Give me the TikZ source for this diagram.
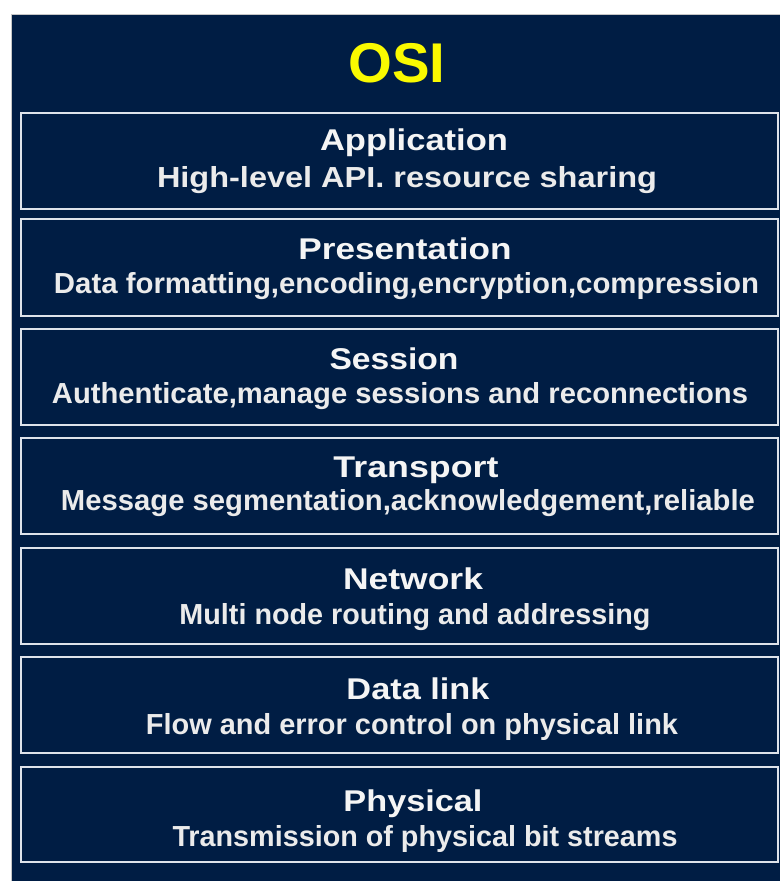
\documentclass[tikz,border=0pt]{standalone}
\usepackage{fontspec}
\setmainfont{Liberation Sans}
\usepackage{graphicx}
\definecolor{navy}{RGB}{0,29,68}
\definecolor{boxline}{RGB}{222,227,235}
\definecolor{osiyellow}{RGB}{250,250,0}
\newcommand\fitto[2]{\resizebox{#1pt}{\height}{#2}}
\tikzset{
  layerbox/.style={draw=boxline, line width=2pt, fill=navy, minimum width=757pt, inner sep=0pt},
  layertitle/.style={anchor=base, inner sep=0pt, text=white!96!black, font=\fontsize{30}{30}\selectfont\bfseries},
  layersub/.style={anchor=base, inner sep=0pt, text=white!92!black, font=\fontsize{29}{29}\selectfont\bfseries},
}
\begin{document}
\begin{tikzpicture}[x=1pt,y=-1pt]
\useasboundingbox (0,0) rectangle (780,881);
\fill[white] (0,0) rectangle (780,881);
\fill[navy] (11,14) rectangle (780,881);
\draw[gray!45, line width=0.8pt] (11.4,881) -- (11.4,14.4) -- (780,14.4);
\node[anchor=base, inner sep=0pt, text=osiyellow, font=\fontsize{56}{56}\selectfont\bfseries] (osi) at (397,82) {\fitto{97}{OSI}};
% boxes
\node[layerbox, minimum height=96pt] (b1) at (399.5,161) {};
\node[layerbox, minimum height=97pt] (b2) at (399.5,267.5) {};
\node[layerbox, minimum height=96pt] (b3) at (399.5,377) {};
\node[layerbox, minimum height=96pt] (b4) at (399.5,486) {};
\node[layerbox, minimum height=96pt] (b5) at (399.5,596) {};
\node[layerbox, minimum height=96pt] (b6) at (399.5,705) {};
\node[layerbox, minimum height=95pt] (b7) at (399.5,814.5) {};
% titles
\node[layertitle] (t1) at (414,150) {\fitto{188}{Application}};
\node[layersub] (s1) at (407,187) {\fitto{500}{High-level API. resource sharing}};
\node[layertitle] (t2) at (405,259) {\fitto{213}{Presentation}};
\node[layersub] (s2) at (406.5,293) {\fitto{705}{Data formatting,encoding,encryption,compression}};
\node[layertitle] (t3) at (394,369) {\fitto{129}{Session}};
\node[layersub] (s3) at (400,403) {\fitto{696}{Authenticate,manage sessions and reconnections}};
\node[layertitle] (t4) at (416,477) {\fitto{165}{Transport}};
\node[layersub] (s4) at (408,510) {\fitto{694}{Message segmentation,acknowledgement,reliable}};
\node[layertitle] (t5) at (413,589) {\fitto{140}{Network}};
\node[layersub] (s5) at (415,624) {\fitto{471}{Multi node routing and addressing}};
\node[layertitle] (t6) at (418,699) {\fitto{143}{Data link}};
\node[layersub] (s6) at (412,734) {\fitto{532}{Flow and error control on physical link}};
\node[layertitle] (t7) at (413,811) {\fitto{139}{Physical}};
\node[layersub] (s7) at (425,846) {\fitto{505}{Transmission of physical bit streams}};
\end{tikzpicture}
\end{document}
